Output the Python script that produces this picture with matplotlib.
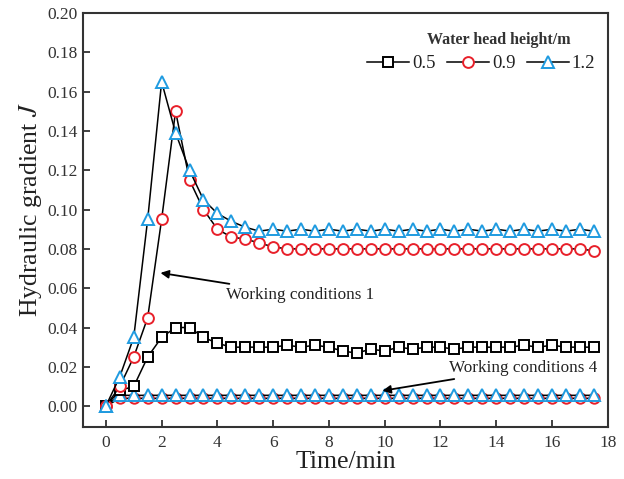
import matplotlib.pyplot as plt
import numpy as np

# time axis (min), sampled every 0.5 min
time = np.arange(0, 18, 0.5)

# working conditions 1 (upper curves)
j_05 = [0.000, 0.008, 0.010, 0.025, 0.035, 0.040, 0.040, 0.035, 0.032, 0.030,
        0.030, 0.030, 0.030, 0.031, 0.030, 0.031, 0.030, 0.028, 0.027, 0.029,
        0.028, 0.030, 0.029, 0.030, 0.030, 0.029, 0.030, 0.030, 0.030, 0.030,
        0.031, 0.030, 0.031, 0.030, 0.030, 0.030]
j_09 = [0.000, 0.010, 0.025, 0.045, 0.095, 0.150, 0.115, 0.100, 0.090, 0.086,
        0.085, 0.083, 0.081, 0.080, 0.080, 0.080, 0.080, 0.080, 0.080, 0.080,
        0.080, 0.080, 0.080, 0.080, 0.080, 0.080, 0.080, 0.080, 0.080, 0.080,
        0.080, 0.080, 0.080, 0.080, 0.080, 0.079]
j_12 = [0.000, 0.015, 0.035, 0.095, 0.165, 0.139, 0.120, 0.105, 0.098, 0.094,
        0.091, 0.089, 0.090, 0.089, 0.090, 0.089, 0.090, 0.089, 0.090, 0.089,
        0.090, 0.089, 0.090, 0.089, 0.090, 0.089, 0.090, 0.089, 0.090, 0.089,
        0.090, 0.089, 0.090, 0.089, 0.090, 0.089]

# working conditions 4 (flat curves near zero)
j4_09 = [0.000] + [0.004] * 35
j4_12 = [0.000] + [0.0055] * 35

heights = ['0.5', '0.9', '1.2']

plt.rcParams['font.family'] = ['Liberation Serif', 'DejaVu Serif']
plt.rcParams['mathtext.fontset'] = 'stix'

fig = plt.figure(figsize=(6.24, 4.79), dpi=100)
# axes box: x 83..608 px, y 13..427 px
ax = fig.add_axes([0.133, 0.109, 0.841, 0.864])

red = '#e8202a'
blue = '#1f9be0'
line_kw = dict(color='black', lw=1.1, markerfacecolor='white', markeredgewidth=1.4)

ax.plot(time, j4_09, marker='o', ms=7.5, markeredgecolor=red, **line_kw)
ax.plot(time, j4_12, marker='^', ms=8.5, markeredgecolor=blue, **line_kw)

ax.plot(time, j_05, marker='s', ms=7.2, markeredgecolor='black', label=heights[0], **line_kw)
ax.plot(time, j_09, marker='o', ms=7.8, markeredgecolor=red, label=heights[1], **line_kw)
ax.plot(time, j_12, marker='^', ms=9, markeredgecolor=blue, label=heights[2], **line_kw)

ax.set_xlim(-0.82, 18)
ax.set_ylim(-0.0105, 0.20)
ax.set_xticks(np.arange(0, 19, 2))
ax.set_yticks(np.arange(0, 0.201, 0.02))
ax.yaxis.set_major_formatter(plt.FuncFormatter(lambda v, p: f'{v:.2f}'))
ax.tick_params(direction='in', length=5, width=1.3, labelsize=12.5, colors='#333333')
ax.tick_params(axis='x', pad=6)
ax.tick_params(axis='y', pad=4)
for s in ax.spines.values():
    s.set_linewidth(1.5)
    s.set_color('#333333')

ax.set_xlabel('Time/min', fontsize=18.5, color='#222222', labelpad=0)
ax.set_ylabel('Hydraulic gradient $J$', fontsize=18.5, color='#222222')
ax.yaxis.set_label_coords(-0.075, 0.525)

leg = ax.legend(ncol=3, loc='upper right', frameon=False,
                fontsize=13.5, handlelength=2.25, handletextpad=0.15,
                columnspacing=0.6, borderaxespad=0.0, borderpad=0.0,
                bbox_to_anchor=(0.976, 0.898))
for t in leg.get_texts():
    t.set_color('#222222')
# legend title sits right of centre in the original, so place it as its own text
ax.text(0.93, 0.934, 'Water head height/m', transform=ax.transAxes, ha='right', va='center',
        fontsize=11.5, fontweight='bold', color='#333333')

ax.annotate('Working conditions 1', xy=(1.86, 0.068), xytext=(4.3, 0.0565),
            fontsize=12.3, color='#222222', va='center',
            arrowprops=dict(arrowstyle='-|>', color='black', lw=1.3, mutation_scale=12))
ax.annotate('Working conditions 4', xy=(9.82, 0.0076), xytext=(12.3, 0.0195),
            fontsize=12.3, color='#222222', va='center',
            arrowprops=dict(arrowstyle='-|>', color='black', lw=1.3, mutation_scale=12))

fig.savefig('out.png', dpi=100)
